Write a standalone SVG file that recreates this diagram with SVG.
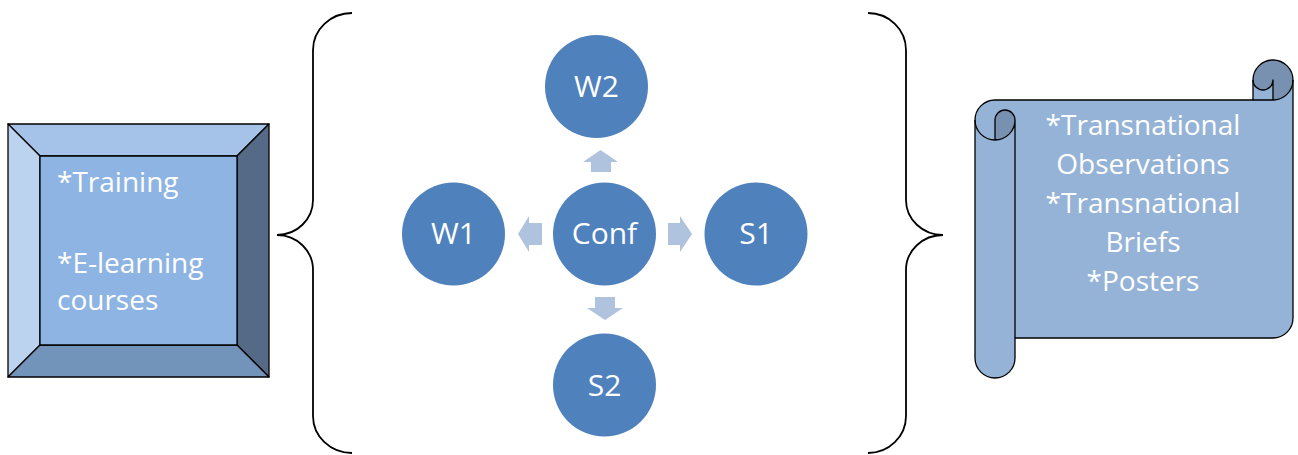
<svg xmlns="http://www.w3.org/2000/svg" width="1298" height="455" viewBox="0 0 1298 455">
<style>
.t{font-family:"Open Sans","Noto Sans","Liberation Sans",sans-serif;font-size:28px;fill:#ffffff}
.c{text-anchor:middle}
.big{font-size:30px}
.circ{fill:#4F81BD}
.arr{fill:#B0C3DE}
.brace{fill:none;stroke:#000;stroke-width:1.8}
.edge{stroke:#000;stroke-width:1.3;stroke-linejoin:round}
</style>
<rect width="1298" height="455" fill="#ffffff"/>
<g id="left-box">
  <polygon class="edge" points="8,124 269,124 237,156 40,156" fill="#A5C2E8"/>
  <polygon class="edge" points="8,124 40,156 40,345 8,377" fill="#BCD3EF"/>
  <polygon class="edge" points="269,124 269,377 237,345 237,156" fill="#546A87"/>
  <polygon class="edge" points="8,377 40,345 237,345 269,377" fill="#7293BA"/>
  <rect class="edge" x="40" y="156" width="197" height="189" fill="#8EB4E3"/>
  <text class="t" x="57" y="192">*Training</text>
  <text class="t" x="57" y="273">*E-learning</text>
  <text class="t" x="57" y="310">courses</text>
</g>
<g id="connectors">
  <path class="brace" d="M352,13 A39,37 0 0 0 313,50 L313,200 A36,35 0 0 1 277,235 A36,35 0 0 1 313,270 L313,416 A39,37 0 0 0 352,453"/>
  <path class="brace" d="M868,13 A38,37 0 0 1 906,50 L906,200 A37,35 0 0 0 943,235 A37,35 0 0 0 906,270 L906,416 A38,37 0 0 1 868,453"/>
  <polygon class="arr" points="600.5,150 618,162 611,162 611,172 591,172 591,162 583,162"/>
  <polygon class="arr" points="595,297 615,297 615,308 623,308 605,320 587,308 595,308"/>
  <polygon class="arr" points="542,223 542,245 529,245 529,252 518,234 529,216 529,223"/>
  <polygon class="arr" points="668,223 680,223 680,216 692,234 680,252 680,245 668,245"/>
</g>
<g id="conf">
  <circle class="circ" cx="604.5" cy="234" r="51.5"/>
  <text class="t c big" x="604.5" y="244">Conf</text>
</g>
<g id="w2">
  <circle class="circ" cx="596.5" cy="86.5" r="51.5"/>
  <text class="t c big" x="596.5" y="97">W2</text>
</g>
<g id="s2">
  <circle class="circ" cx="604.5" cy="385" r="51.5"/>
  <text class="t c big" x="604.5" y="396">S2</text>
</g>
<g id="w1">
  <circle class="circ" cx="453.5" cy="234" r="51.5"/>
  <text class="t c big" x="453.5" y="244">W1</text>
</g>
<g id="s1">
  <circle class="circ" cx="756" cy="234" r="51.5"/>
  <text class="t c big" x="756" y="244">S1</text>
</g>
<g id="scroll">
  <path d="M975,120 A20,20 0 0 1 995,100 L1253,100 L1253,80 A20,20 0 0 1 1293,80 L1293,318 A20,20 0 0 1 1273,338 L1015,338 L1015,358 A20,20 0 0 1 975,358 Z" fill="#95B3D7"/>
  <path d="M995,140 A20,20 0 0 0 1015,120 A10,10 0 0 0 995,120 Z M1273,100 A20,20 0 1 0 1253,80 A10,10 0 0 0 1273,80 Z" fill="#7891B0"/>
  <g class="edge" fill="none" stroke-width="1.8">
    <path d="M975,120 A20,20 0 0 1 995,100 L1253,100 L1253,80 A20,20 0 0 1 1293,80 L1293,318 A20,20 0 0 1 1273,338 L1015,338 L1015,358 A20,20 0 0 1 975,358 Z"/>
    <path d="M1253,100 L1273,100 A20,20 0 0 0 1293,80 M1273,100 L1273,80 A10,10 0 0 1 1253,80 M995,140 L995,120 A10,10 0 0 1 1015,120 A20,20 0 0 1 975,120 M1015,120 L1015,338"/>
  </g>
  <text class="t c" x="1143" y="135">*Transnational</text>
  <text class="t c" x="1143" y="174">Observations</text>
  <text class="t c" x="1143" y="213">*Transnational</text>
  <text class="t c" x="1143" y="252">Briefs</text>
  <text class="t c" x="1143" y="291">*Posters</text>
</g>
</svg>
